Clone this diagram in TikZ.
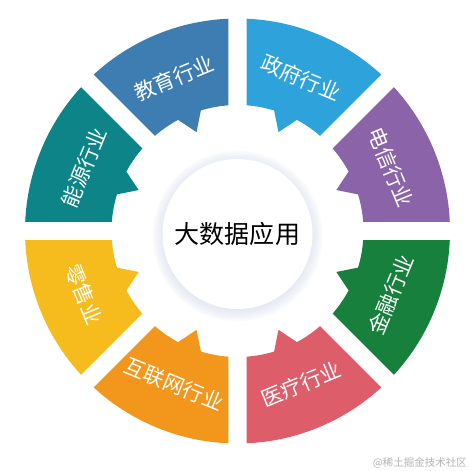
\documentclass[tikz,border=0pt]{standalone}
\usepackage{fontspec}
\newfontfamily\cjk{Noto Sans CJK SC}
\setmainfont{Noto Sans CJK SC}
\definecolor{cTel}{HTML}{8B63A8}
\definecolor{cGov}{HTML}{2EA2DA}
\definecolor{cEdu}{HTML}{3E7DB1}
\definecolor{cEne}{HTML}{0C8488}
\definecolor{cRet}{HTML}{F6BB1C}
\definecolor{cNet}{HTML}{F2961C}
\definecolor{cMed}{HTML}{DD5D6B}
\definecolor{cFin}{HTML}{16803C}
\definecolor{cShadow}{HTML}{D8DDEE}
\definecolor{cMark}{HTML}{B4B4B4}
\begin{document}
\begin{tikzpicture}[x=1pt,y=1pt,
  segshape/.style={fill=#1, draw=none},
  lbl/.style={text=white, inner sep=0pt, font=\cjk\fontsize{21}{21}\selectfont},
  hubtext/.style={circle, fill=white, minimum size=150pt, inner sep=0pt, text=black, font=\cjk\fontsize{25}{25}\selectfont},
  mark/.style={}]
\useasboundingbox (-237.5pt,-240pt) rectangle (233.5pt,231pt);
\fill[white] (-237.5pt,-240pt) rectangle (233.5pt,231pt);
\foreach \a/\col/\txt in {0/cTel/电信行业, 45/cGov/政府行业, 90/cEdu/教育行业, 135/cEne/能源行业, 180/cRet/零售业, 225/cNet/互联网行业, 270/cMed/医疗行业, 315/cFin/金融行业}{
  \pgfmathsetmacro{\aone}{\a+2.43}
  \pgfmathsetmacro{\bone}{\a+45-2.43}
  \pgfmathsetmacro{\atwo}{\a+4.10}
  \pgfmathsetmacro{\btwo}{\a+45-4.10}
  \pgfmathsetmacro{\m}{\a+22.5}
  \pgfmathsetmacro{\mp}{\m+5.6}
  \pgfmathsetmacro{\mm}{\m-5.6}
  \pgfmathsetmacro{\rot}{\m<180 ? \m-90 : \m+90}
  \fill[segshape=\col] (\aone:212.5pt) arc[start angle=\aone, end angle=\bone, radius=212.5pt]
     -- (\btwo:126pt) arc[start angle=\btwo, end angle=\mp, radius=126pt]
     -- (\m:107pt) -- (\mm:126pt) arc[start angle=\mm, end angle=\atwo, radius=126pt] -- cycle;
  \node[lbl, rotate=\rot] (lbl\a) at (\m:166pt) {\txt};
}
\foreach \r in {75,77,...,85}{
  \fill[cShadow, opacity=0.13] (0,-5pt) circle[radius=\r pt];
}
\node[hubtext] (hub) at (0,-3pt) {大数据应用};
\node[anchor=east, inner sep=0pt, text=cMark, font=\cjk\fontsize{10.5}{10.5}\selectfont] (wm) at (229.5pt,-232pt) {@稀土掘金技术社区};
\end{tikzpicture}
\end{document}
